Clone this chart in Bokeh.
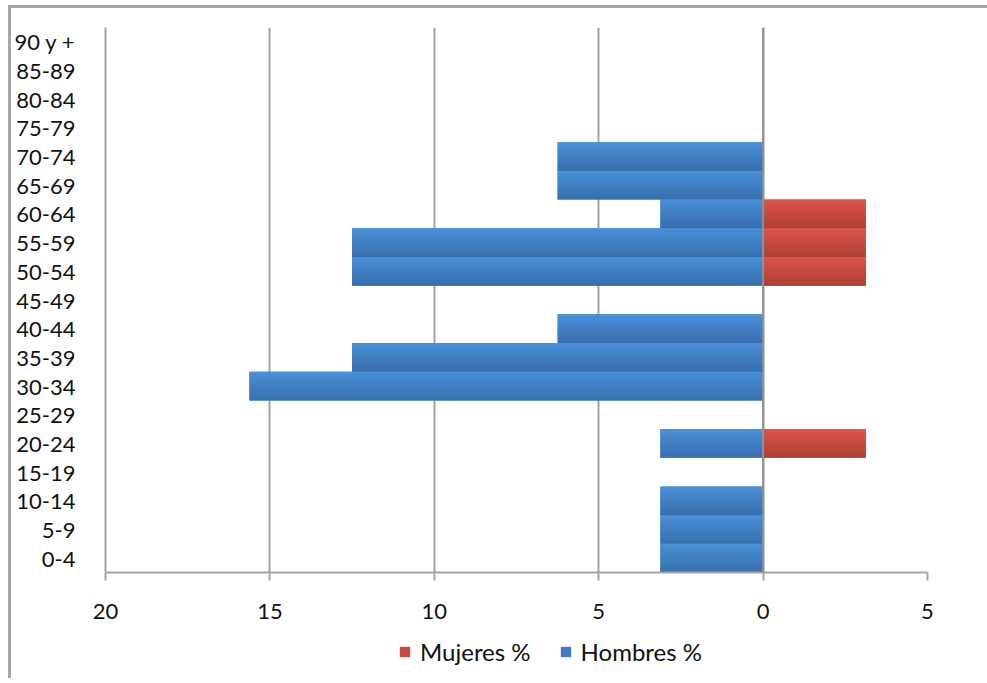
from bokeh.plotting import figure
from bokeh.layouts import column
from bokeh.models import (FactorRange, Range1d, FixedTicker, Legend, LegendItem, Span, ColumnDataSource)
from bokeh.transform import dodge
from bokeh.embed import file_html
from bokeh.resources import INLINE

ages = ["0-4", "5-9", "10-14", "15-19", "20-24", "25-29", "30-34", "35-39", "40-44",
        "45-49", "50-54", "55-59", "60-64", "65-69", "70-74", "75-79", "80-84", "85-89", "90 y +"]
hombres = [3.125, 3.125, 3.125, 0, 3.125, 0, 15.625, 12.5, 6.25,
           0, 12.5, 12.5, 3.125, 6.25, 6.25, 0, 0, 0, 0]
mujeres = [0, 0, 0, 0, 3.125, 0, 0, 0, 0,
           0, 3.125, 3.125, 3.125, 0, 0, 0, 0, 0, 0]
x_ticks = [-20, -15, -10, -5, 0, 5]
x_tick_labels = ["20", "15", "10", "5", "0", "5"]

FONT = "Lato"
GRID = "#a3a3a3"
FS = "22px"


def blend(c1, c2, t):
    a = [int(c1[i:i + 2], 16) for i in (1, 3, 5)]
    b = [int(c2[i:i + 2], 16) for i in (1, 3, 5)]
    return "#" + "".join("%02x" % round(a[k] + (b[k] - a[k]) * t) for k in range(3))


BLUE_TOP, BLUE_BOT = "#4a8fd8", "#3870ae"
RED_TOP, RED_BOT = "#db564b", "#b03f35"

src = ColumnDataSource(dict(
    age=ages,
    men_left=[-v for v in hombres],
    zero=[0] * len(ages),
    women_right=mujeres,
))

p = figure(width=976, height=626, output_backend="svg", toolbar_location=None,
           y_range=FactorRange(*ages, range_padding=0), x_range=Range1d(-20, 5),
           min_border_left=94, min_border_top=19, min_border_right=60, min_border_bottom=62)
p.outline_line_color = None
p.background_fill_color = "white"
p.border_fill_color = "white"

# base bars
p.hbar(y="age", left="men_left", right="zero", height=1.0, source=src,
       fill_color=blend(BLUE_TOP, BLUE_BOT, 0.5), line_color=None)
p.hbar(y="age", left="zero", right="women_right", height=1.0, source=src,
       fill_color=blend(RED_TOP, RED_BOT, 0.5), line_color=None)
# gradient-like shading via thin strips (top lighter, bottom darker)
N = 10
h = 1.0 / N
for i in range(N):
    t = i / (N - 1)
    off = 0.5 - h * (i + 0.5)
    p.hbar(y=dodge("age", off, range=p.y_range), left="men_left", right="zero", height=h,
           source=src, fill_color=blend(BLUE_TOP, BLUE_BOT, t), line_color=None)
    p.hbar(y=dodge("age", off, range=p.y_range), left="zero", right="women_right", height=h,
           source=src, fill_color=blend(RED_TOP, RED_BOT, t), line_color=None)

p.add_layout(Span(location=0, dimension="height", line_color="#8f8f8f", line_width=2))

p.xaxis.ticker = FixedTicker(ticks=x_ticks)
p.xaxis.major_label_overrides = {t: l for t, l in zip(x_ticks, x_tick_labels)}
p.xaxis.axis_line_color = GRID
p.xaxis.axis_line_width = 2
p.xaxis.major_tick_line_color = GRID
p.xaxis.major_tick_line_width = 2
p.xaxis.major_tick_out = 8
p.xaxis.major_tick_in = 0
p.xaxis.minor_tick_line_color = None
p.xaxis.major_label_standoff = 23
p.xaxis.major_label_text_font = FONT
p.xaxis.major_label_text_font_size = FS
p.xaxis.major_label_text_color = "#111111"

p.yaxis.axis_line_color = GRID
p.yaxis.axis_line_width = 2
p.yaxis.major_tick_line_color = None
p.yaxis.minor_tick_line_color = None
p.yaxis.major_label_standoff = 24
p.yaxis.major_label_text_font = FONT
p.yaxis.major_label_text_font_size = FS
p.yaxis.major_label_text_color = "#111111"

p.xgrid.ticker = FixedTicker(ticks=x_ticks)
p.xgrid.grid_line_color = GRID
p.xgrid.grid_line_width = 2
p.ygrid.grid_line_color = None

# legend strip (its frame is aligned with the chart's frame by the column layout)
lg = figure(width=976, height=44, output_backend="svg", toolbar_location=None,
            x_range=Range1d(0, 1), y_range=Range1d(0, 1),
            x_axis_location=None, y_axis_location=None,
            min_border_left=0, min_border_right=0, min_border_top=0, min_border_bottom=0)
lg.grid.visible = False
lg.outline_line_color = None
lg.background_fill_color = "white"
lg.border_fill_color = "white"
r_m = lg.hbar(y=[5], left=[5], right=[6], height=1, fill_color="#c94a40", line_color=None)
r_h = lg.hbar(y=[5], left=[5], right=[6], height=1, fill_color="#3f7dc0", line_color=None)
legend = Legend(items=[LegendItem(label="Mujeres %", renderers=[r_m]),
                       LegendItem(label="Hombres %", renderers=[r_h])],
                orientation="horizontal", location=(293, 12),
                label_text_font=FONT, label_text_font_size="24px", label_text_color="#111111",
                glyph_width=13, glyph_height=13, spacing=28, padding=0, margin=0,
                label_standoff=9,
                border_line_color=None, background_fill_alpha=0)
lg.add_layout(legend, "center")

layout = column(p, lg, spacing=0)
layout.styles = {"margin-left": "8px", "margin-top": "5px",
                 "border-top": "3px solid #a6a6a6", "border-left": "3px solid #a6a6a6"}

open("out.html", "w").write(file_html(layout, INLINE))
